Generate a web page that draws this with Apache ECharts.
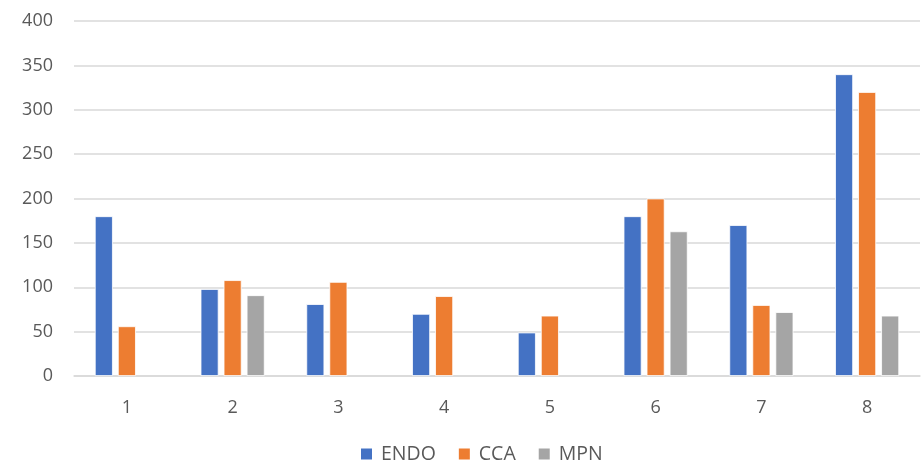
<!DOCTYPE html>
<html>
<head>
<meta charset="utf-8">
<script src="https://cdn.jsdelivr.net/npm/echarts@6/dist/echarts.min.js"></script>
<style>
  html, body { margin: 0; padding: 0; background: #fff; }
  #chart { width: 922px; height: 469px; }
</style>
</head>
<body>
<div id="chart"></div>
<script>
// Categories along the x axis
const categories = ['1', '2', '3', '4', '5', '6', '7', '8'];

// Series values (null = no bar in that group)
const endo = [180, 98, 81, 70, 49, 180, 170, 340];
const cca  = [56, 108, 106, 90, 68, 200, 80, 320];
const mpn  = [null, 91, null, null, null, 163, 72, 68];

const seriesNames = ['ENDO', 'CCA', 'MPN'];
const colors = ['#4472C4', '#ED7D31', '#A5A5A5'];

const font = '"Open Sans", "Noto Sans", sans-serif';
const textColor = '#595959';

const chart = echarts.init(document.getElementById('chart'), null, { renderer: 'canvas' });

function barSeries(name, data, color) {
  return {
    name: name,
    type: 'bar',
    data: data,
    barWidth: 18,
    barGap: '28%',
    itemStyle: { color: color, borderColor: '#ffffff', borderWidth: 0.8 },
    emphasis: { disabled: true }
  };
}

chart.setOption({
  animation: false,
  color: colors,
  grid: { left: 74, right: 2, top: 21, bottom: 93, containLabel: false },
  legend: {
    bottom: 0,
    left: 354,
    itemWidth: 13,
    itemHeight: 13,
    itemGap: 21,
    icon: 'rect',
    textStyle: { color: textColor, fontSize: 19.5, fontFamily: font, padding: [0, 0, 0, 3] },
    data: seriesNames
  },
  xAxis: {
    type: 'category',
    data: categories,
    axisLine: { show: true, lineStyle: { color: '#D9D9D9', width: 1.5 } },
    axisTick: { show: false },
    axisLabel: { color: textColor, fontSize: 18, fontFamily: font, margin: 23 }
  },
  yAxis: {
    type: 'value',
    min: 0,
    max: 400,
    interval: 50,
    axisLine: { show: false },
    axisTick: { show: false },
    axisLabel: { color: textColor, fontSize: 18, fontFamily: font, margin: 21 },
    splitLine: { show: true, lineStyle: { color: '#D9D9D9', width: 1.5 } }
  },
  series: [
    barSeries(seriesNames[0], endo, colors[0]),
    barSeries(seriesNames[1], cca, colors[1]),
    barSeries(seriesNames[2], mpn, colors[2])
  ]
});
</script>
</body>
</html>
